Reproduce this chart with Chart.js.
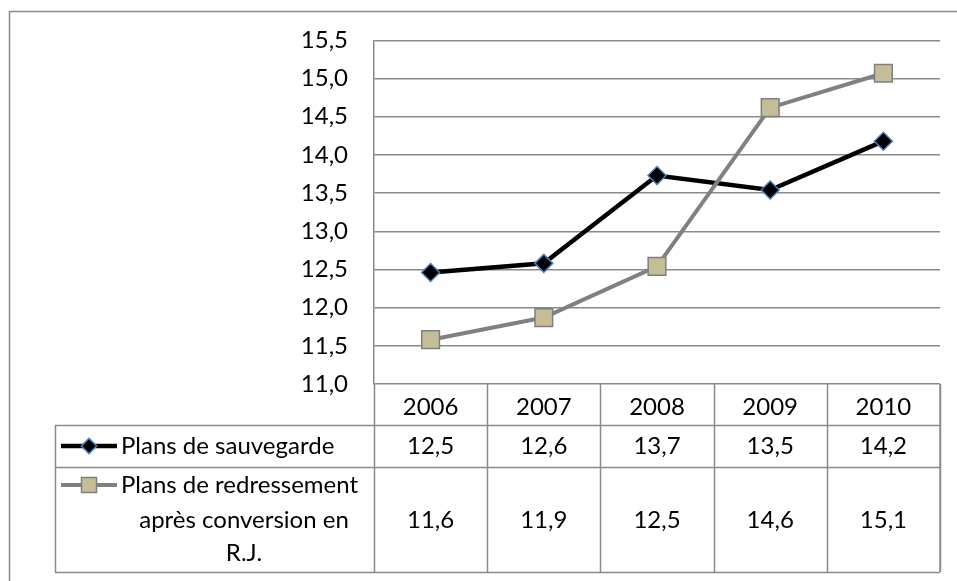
<!DOCTYPE html>
<html>
<head>
<meta charset="utf-8">
<script src="https://cdn.jsdelivr.net/npm/chart.js@4/dist/chart.umd.min.js"></script>
<style>
  body { margin: 0; background: #fff; }
  canvas { display: block; }
</style>
</head>
<body>
<canvas id="chart" width="957" height="581"></canvas>
<script>
let years = ["2006", "2007", "2008", "2009", "2010"];
let sauvegarde = [12.46, 12.58, 13.73, 13.54, 14.18];
let redressement = [11.58, 11.87, 12.54, 14.62, 15.07];
let seriesNames = ["Plans de sauvegarde", "Plans de redressement après conversion en R.J."];
let yMin = 11, yMax = 15.5, yStep = 0.5;

let font = "Lato, 'Open Sans', sans-serif";
let fontSize = 24;
let gridColor = "#8a8a8a";

function fmt(v) {
  return v.toFixed(1).replace(".", ",");
}

// table rows under the plot (header, series 1, series 2)
let rowBottoms = [425, 467, 572];
let tableLeft = 55;

let tablePlugin = {
  id: "dataTable",
  beforeDraw(chart) {
    let ctx = chart.ctx;
    ctx.save();
    ctx.strokeStyle = gridColor;
    ctx.lineWidth = 1.5;
    ctx.beginPath();
    ctx.moveTo(9.5, 581);
    ctx.lineTo(9.5, 11.5);
    ctx.lineTo(957, 11.5);
    ctx.stroke();
    ctx.restore();
  },
  afterDraw(chart) {
    let ctx = chart.ctx;
    let x = chart.scales.x;
    let area = chart.chartArea;
    let half = (x.getPixelForValue(1) - x.getPixelForValue(0)) / 2;
    let top = area.bottom;
    let bottom = rowBottoms[rowBottoms.length - 1];

    ctx.save();
    ctx.strokeStyle = gridColor;
    ctx.lineWidth = 1.5;
    ctx.beginPath();
    // vertical column lines
    for (let i = 0; i <= years.length; i++) {
      let px = Math.round(x.getPixelForValue(i) - half) + 0.5;
      ctx.moveTo(px, top);
      ctx.lineTo(px, bottom);
    }
    ctx.moveTo(area.right, top);
    ctx.lineTo(area.right, bottom);
    // horizontal row lines
    rowBottoms.forEach(function(y) {
      ctx.moveTo(tableLeft, y + 0.5);
      ctx.lineTo(area.right, y + 0.5);
    });
    ctx.moveTo(tableLeft + 0.5, rowBottoms[0]);
    ctx.lineTo(tableLeft + 0.5, bottom);
    ctx.stroke();

    // values
    ctx.fillStyle = "#000";
    ctx.font = fontSize + "px " + font;
    ctx.textAlign = "center";
    ctx.textBaseline = "middle";
    let rowY = [446, 520];
    [sauvegarde, redressement].forEach(function(data, r) {
      data.forEach(function(v, i) {
        ctx.fillText(fmt(v), x.getPixelForValue(i), rowY[r]);
      });
    });

    // legend keys
    let ds = chart.data.datasets;
    let keyY = [446, 485];
    ds.forEach(function(d, r) {
      ctx.strokeStyle = d.borderColor;
      ctx.lineWidth = d.borderWidth;
      ctx.beginPath();
      ctx.moveTo(61, keyY[r]);
      ctx.lineTo(117, keyY[r]);
      ctx.stroke();
      ctx.fillStyle = d.pointBackgroundColor;
      ctx.strokeStyle = d.pointBorderColor;
      ctx.lineWidth = d.pointBorderWidth;
      Chart.helpers.drawPoint(ctx, {
        pointStyle: d.pointStyle,
        radius: d.pointRadius * 0.85,
        rotation: 0,
        borderWidth: d.pointBorderWidth
      }, 89, keyY[r]);
    });

    ctx.fillStyle = "#000";
    ctx.textAlign = "left";
    ctx.fillText(seriesNames[0], 121, keyY[0]);
    ctx.fillText("Plans de redressement", 121, keyY[1]);
    ctx.textAlign = "center";
    ctx.fillText("après conversion en", 244, 520);
    ctx.fillText("R.J.", 244, 553);
    ctx.restore();
  }
};

let ctx = document.getElementById("chart");
let chart = new Chart(ctx, {
  type: "line",
  data: {
    labels: years,
    datasets: [
      {
        label: seriesNames[0],
        data: sauvegarde,
        borderColor: "#000000",
        borderWidth: 4.5,
        pointStyle: "rectRot",
        pointRadius: 9,
        pointBackgroundColor: "#000000",
        pointBorderColor: "#4a7ebb",
        pointBorderWidth: 1.5,
        tension: 0,
        order: 1
      },
      {
        label: seriesNames[1],
        data: redressement,
        borderColor: "#808080",
        borderWidth: 4,
        pointStyle: "rect",
        pointRadius: 12.5,
        pointBackgroundColor: "#c4bd97",
        pointBorderColor: "#7f7f7f",
        pointBorderWidth: 1.5,
        tension: 0,
        order: 0
      }
    ]
  },
  options: {
    responsive: false,
    animation: false,
    layout: { padding: { left: 0, top: 40, right: 17, bottom: 0 } },
    plugins: { legend: { display: false }, tooltip: { enabled: false } },
    scales: {
      x: {
        offset: true,
        grid: { display: false },
        border: { display: false },
        ticks: { color: "#000", font: { family: font, size: fontSize }, padding: 1 },
        afterFit: function(scale) { scale.height = 197; }
      },
      y: {
        min: yMin,
        max: yMax,
        grid: { color: gridColor, lineWidth: 1.5, drawTicks: false },
        border: { display: true, color: gridColor, width: 1.5 },
        ticks: {
          stepSize: yStep,
          color: "#000",
          font: { family: font, size: fontSize },
          padding: 26,
          callback: function(v) { return fmt(v); }
        },
        afterFit: function(scale) { scale.width = 374; }
      }
    }
  },
  plugins: [tablePlugin]
});
</script>
</body>
</html>
